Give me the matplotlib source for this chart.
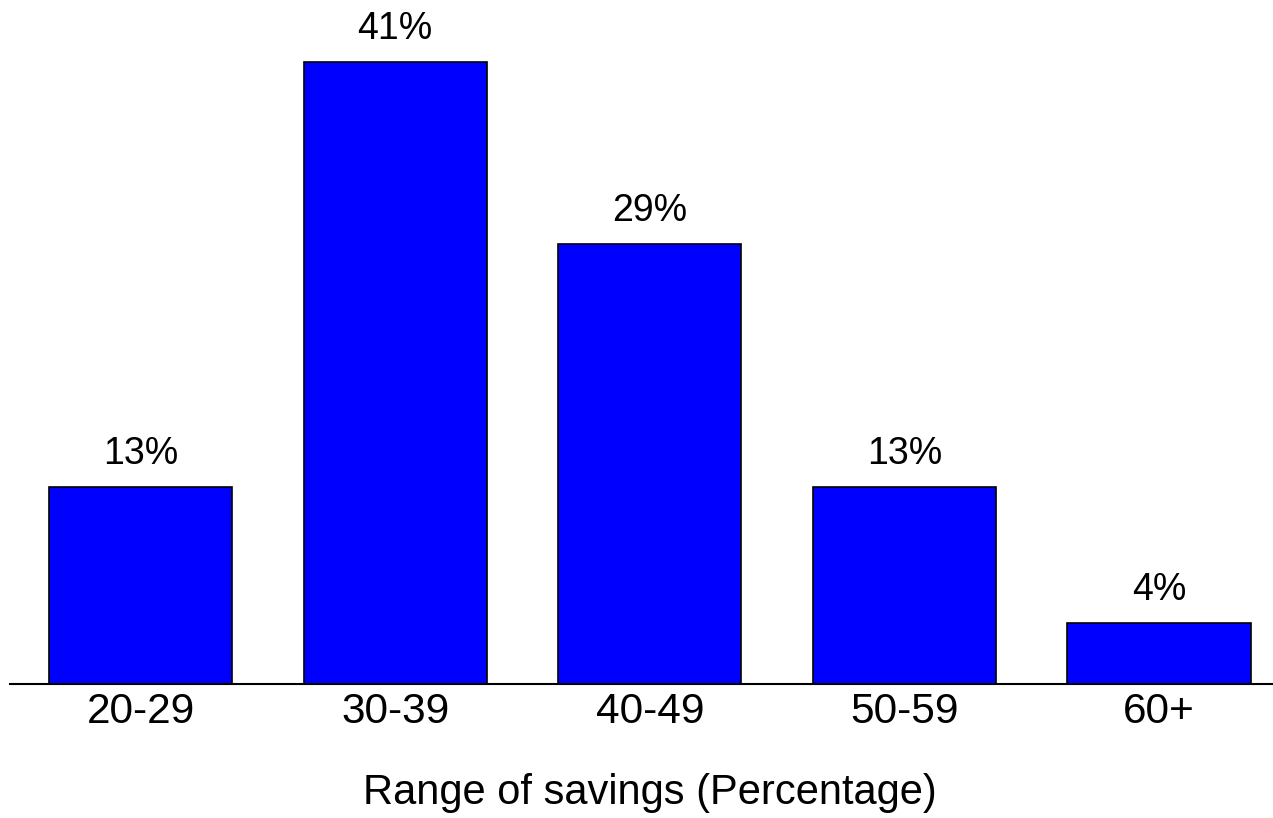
import matplotlib
matplotlib.use("Agg")
import matplotlib.pyplot as plt

categories = ["20-29", "30-39", "40-49", "50-59", "60+"]
values = [13, 41, 29, 13, 4]
value_labels = ["13%", "41%", "29%", "13%", "4%"]
xlabel = "Range of savings (Percentage)"

plt.rcParams['font.family'] = ['Liberation Sans', 'DejaVu Sans']

W, H = 1273, 818
fig = plt.figure(figsize=(W / 100, H / 100), dpi=100)
ax = fig.add_axes([10 / W, (H - 684) / H, 1263 / W, 683 / H])

x = list(range(len(categories)))
ax.bar(x, values, width=0.72, color="#0000FF", edgecolor="black", linewidth=1.2)

for xi, v, lab in zip(x, values, value_labels):
    ax.annotate(lab, (xi, v), xytext=(0, 16.5), textcoords="offset points",
                ha="center", va="baseline", fontsize=27)

ax.set_xlim(-0.513, 4.448)
ax.set_ylim(0, 45)
ax.set_xticks(x)
ax.set_xticklabels(categories, fontsize=30.5)
ax.tick_params(axis="x", length=0, pad=6)
ax.set_yticks([])
for s in ["top", "right", "left"]:
    ax.spines[s].set_visible(False)
ax.spines["bottom"].set_linewidth(1.5)
ax.spines["bottom"].set_zorder(5)

fig.text(650 / W, 1 - 804 / H, xlabel, ha="center", va="baseline", fontsize=30)

fig.savefig("out.png", dpi=100)
